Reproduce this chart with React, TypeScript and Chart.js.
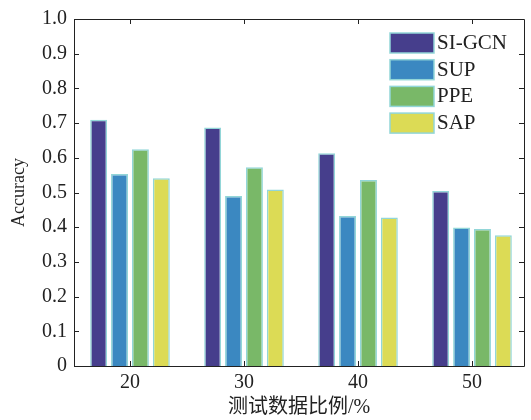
import React, { useEffect, useRef } from "react";
import { Chart, registerables } from "chart.js";

Chart.register(...registerables);

const categories = [20, 30, 40, 50];
const seriesNames = ["SI-GCN", "SUP", "PPE", "SAP"];
const siGcn = [0.71, 0.687, 0.613, 0.504];
const sup = [0.553, 0.49, 0.432, 0.399];
const ppe = [0.625, 0.573, 0.536, 0.395];
const sap = [0.541, 0.509, 0.428, 0.377];
const yTicks = [0, 0.1, 0.2, 0.3, 0.4, 0.5, 0.6, 0.7, 0.8, 0.9, 1.0];
const xTickLabels = ["20", "30", "40", "50"];

const colors = ["#463e8c", "#3b88c1", "#79b868", "#dcdb55"];
const borderColor = "#92d6d8";
const serif = "'Liberation Serif', 'Times New Roman', serif";
const textColor = "#222";

export default function App() {
  const ref = useRef<HTMLCanvasElement | null>(null);

  useEffect(() => {
    if (!ref.current) return;
    const seriesValues = [siGcn, sup, ppe, sap];

    const framePlugin = {
      id: "framePlugin",
      afterDraw(chart: any) {
        const ctx = chart.ctx;
        const { left, right, top, bottom } = chart.chartArea;
        ctx.save();
        ctx.strokeStyle = "#222";
        ctx.lineWidth = 1;
        ctx.beginPath();
        ctx.rect(Math.round(left) + 0.5, Math.round(top) + 0.5, Math.round(right - left), Math.round(bottom - top));
        ctx.stroke();
        const ys = chart.scales.y;
        const xs = chart.scales.x;
        const tl = 5;
        ctx.beginPath();
        ys.ticks.forEach((t: any) => {
          const py = Math.round(ys.getPixelForValue(t.value)) + 0.5;
          ctx.moveTo(left, py);
          ctx.lineTo(left + tl, py);
          ctx.moveTo(right, py);
          ctx.lineTo(right - tl, py);
        });
        xs.ticks.forEach((t: any) => {
          const px = Math.round(xs.getPixelForValue(t.value)) + 0.5;
          ctx.moveTo(px, bottom);
          ctx.lineTo(px, bottom - tl);
          ctx.moveTo(px, top);
          ctx.lineTo(px, top + tl);
        });
        ctx.stroke();

        // legend
        const lx = 390;
        const ly0 = 33;
        const step = 26.7;
        ctx.font = "21px " + serif;
        ctx.textBaseline = "middle";
        ctx.textAlign = "left";
        seriesNames.forEach((name, i) => {
          const y = ly0 + i * step;
          ctx.fillStyle = colors[i];
          ctx.fillRect(lx, y, 44, 20);
          ctx.strokeStyle = borderColor;
          ctx.lineWidth = 1.5;
          ctx.strokeRect(lx, y, 44, 20);
          ctx.fillStyle = textColor;
          ctx.fillText(name, lx + 47, y + 10.5);
        });
        ctx.restore();
      },
    };

    const chart = new Chart(ref.current, {
      type: "bar",
      data: {
        datasets: seriesNames.map((name, i) => ({
          label: name,
          data: categories.map((c, j) => ({ x: c, y: seriesValues[i][j] })),
          backgroundColor: colors[i],
          borderColor: borderColor,
          borderWidth: 1.5,
          categoryPercentage: 0.733,
          barPercentage: 0.81,
        })),
      },
      options: {
        responsive: false,
        animation: false,
        layout: { padding: { left: 0, right: 7, top: 15, bottom: 0 } },
        plugins: { legend: { display: false }, tooltip: { enabled: false } },
        scales: {
          x: {
            type: "linear",
            offset: false,
            min: 15.09,
            max: 54.56,
            grid: { display: false, drawTicks: false, offset: false },
            border: { display: false },
            afterBuildTicks: (scale: any) => {
              scale.ticks = categories.map((c) => ({ value: c }));
            },
            afterFit: (scale: any) => {
              scale.height = 54;
            },
            ticks: {
              padding: 5,
              color: textColor,
              font: { family: serif, size: 20 },
              callback: (v: any) => {
                const idx = categories.indexOf(Number(v));
                return idx >= 0 ? xTickLabels[idx] : "";
              },
            },
            title: {
              display: true,
              text: "测试数据比例/%",
              color: textColor,
              font: { family: "'Liberation Serif', 'Noto Sans CJK SC', serif", size: 20 },
              padding: { top: 0, bottom: 0 },
            },
          },
          y: {
            min: 0,
            max: 1,
            grid: { display: false, drawTicks: false },
            border: { display: false },
            afterBuildTicks: (scale: any) => {
              scale.ticks = yTicks.map((v) => ({ value: v }));
            },
            afterFit: (scale: any) => {
              scale.width = 74;
            },
            ticks: {
              padding: 7,
              color: textColor,
              font: { family: serif, size: 20 },
              callback: (v: any) => (Number(v) === 0 ? "0" : Number(v).toFixed(1)),
            },
            title: {
              display: true,
              text: "Accuracy",
              color: textColor,
              font: { family: serif, size: 18 },
              padding: { top: 8, bottom: 0 },
            },
          },
        },
      },
      plugins: [framePlugin],
    });
    return () => chart.destroy();
  }, []);

  return (
    <div style={{ position: "fixed", left: 0, top: 0, width: 531, height: 420, background: "#fff" }}>
      <canvas ref={ref} width={531} height={420} style={{ display: "block" }} />
    </div>
  );
}
